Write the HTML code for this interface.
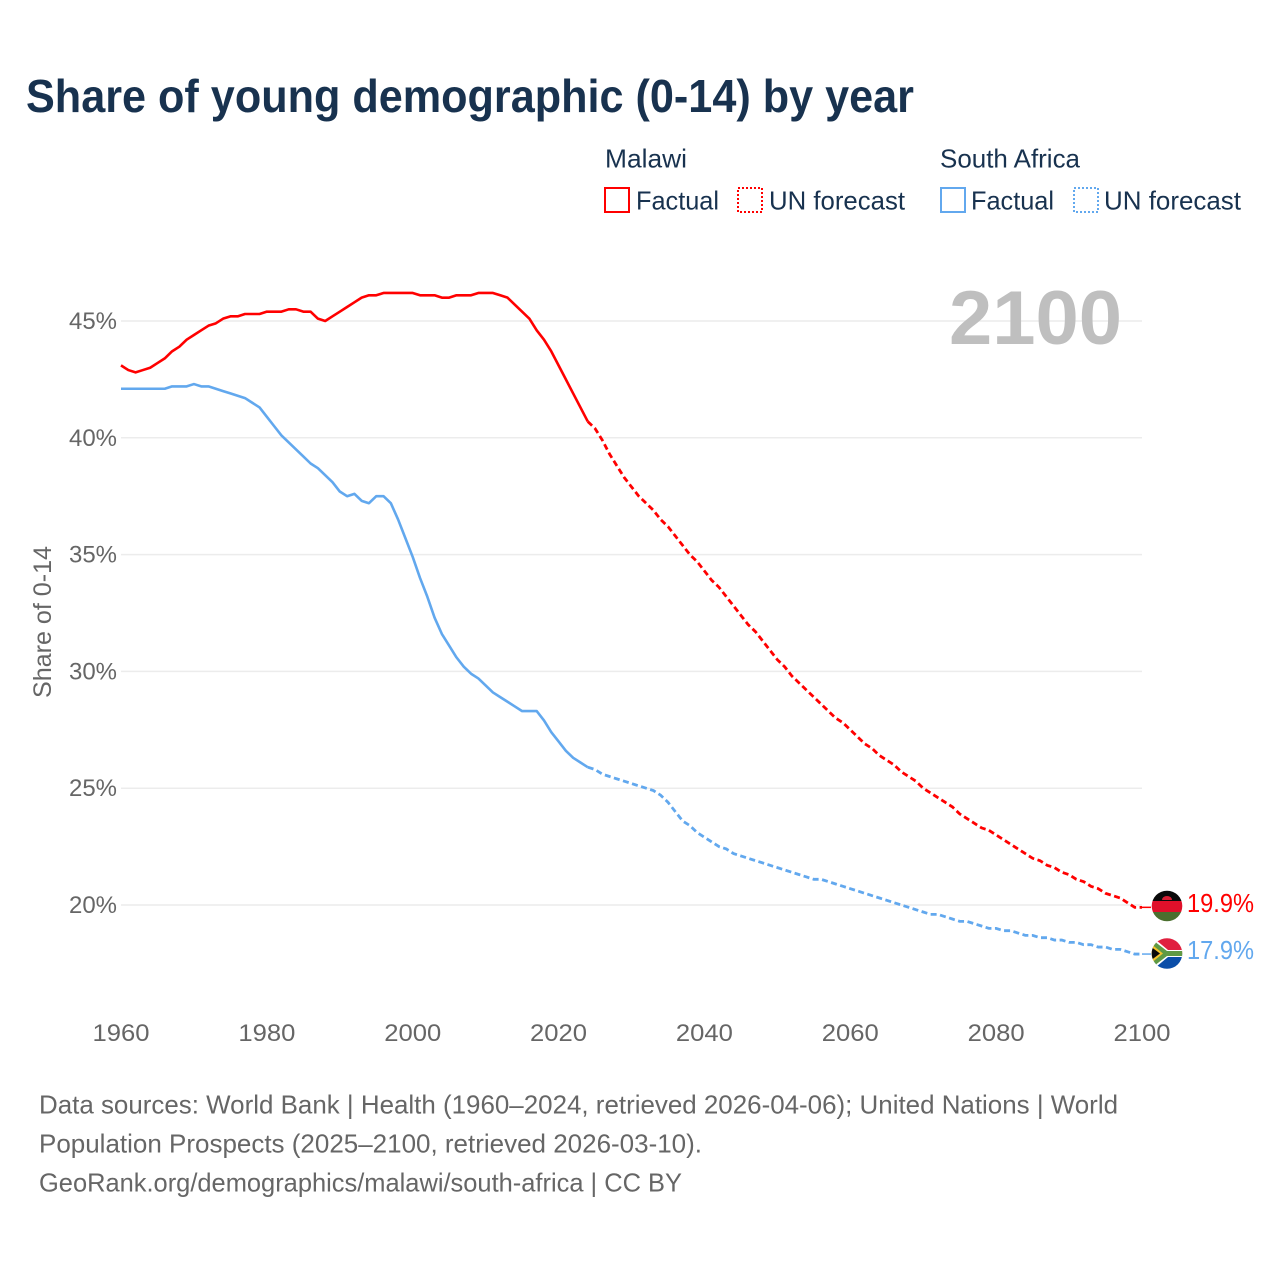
<!DOCTYPE html>
<html lang="en">
<head>
<meta charset="utf-8">
<title>Share of young demographic (0-14) by year</title>
<style>
html,body{margin:0;padding:0;background:#fff;}
svg{display:block;}
text{font-family:"Liberation Sans",sans-serif;}
</style>
</head>
<body>
<svg id="chart" xmlns="http://www.w3.org/2000/svg" width="1280" height="1280" viewBox="0 0 1280 1280">
  <defs>
    <clipPath id="flag-clip-mw"><circle cx="1167" cy="906" r="15.3"/></clipPath>
    <clipPath id="flag-clip-za"><circle cx="1167" cy="953.5" r="15.3"/></clipPath>
  </defs>
  <rect width="1280" height="1280" fill="#ffffff"/>
  <text x="26" y="112" font-size="46" font-weight="700" fill="#18324f" textLength="888" lengthAdjust="spacingAndGlyphs">Share of young demographic (0-14) by year</text>

  <g font-size="26" fill="#18324f">
    <text x="605" y="167.5" textLength="82" lengthAdjust="spacingAndGlyphs">Malawi</text>
    <text x="940" y="167.5" textLength="140" lengthAdjust="spacingAndGlyphs">South Africa</text>
    <rect x="605" y="188" width="24" height="24" fill="none" stroke="#ff0000" stroke-width="2"/>
    <text x="636" y="209.5" textLength="83" lengthAdjust="spacingAndGlyphs">Factual</text>
    <rect x="738" y="188" width="24" height="24" fill="none" stroke="#ff0000" stroke-width="2" stroke-dasharray="2 2"/>
    <text x="769" y="209.5" textLength="136" lengthAdjust="spacingAndGlyphs">UN forecast</text>
    <rect x="941" y="188" width="24" height="24" fill="none" stroke="#62a8ee" stroke-width="2"/>
    <text x="971" y="209.5" textLength="83" lengthAdjust="spacingAndGlyphs">Factual</text>
    <rect x="1074" y="188" width="24" height="24" fill="none" stroke="#62a8ee" stroke-width="2" stroke-dasharray="2 2"/>
    <text x="1104" y="209.5" textLength="137" lengthAdjust="spacingAndGlyphs">UN forecast</text>
  </g>

  <g id="grid"></g>
  <text x="949" y="344" font-size="76" font-weight="700" fill="#bfbfbf" textLength="173" lengthAdjust="spacingAndGlyphs">2100</text>
  <text transform="translate(51,698) rotate(-90)" font-size="25" fill="#666666" textLength="152" lengthAdjust="spacingAndGlyphs">Share of 0-14</text>
  <g id="y-ticks" font-size="24.5" fill="#666666"></g>
  <g id="x-ticks" font-size="24.5" fill="#666666"></g>
  <g id="series"></g>

  <g clip-path="url(#flag-clip-mw)">
    <rect x="1150" y="890" width="34" height="11" fill="#0a0a0a"/>
    <rect x="1150" y="901" width="34" height="11" fill="#e0102a"/>
    <rect x="1150" y="912" width="34" height="11" fill="#4a6f2e"/>
    <path d="M1162 900 a5 4 0 0 1 10 0 z" fill="#d81e34"/>
  </g>
  <g clip-path="url(#flag-clip-za)">
    <rect x="1150" y="937" width="34" height="17" fill="#e0203f"/>
    <rect x="1150" y="954" width="34" height="17" fill="#0b4ea8"/>
    <path d="M1150 935 L1168 950 H1184 V957 H1168 L1150 972 Z" fill="#ffffff"/>
    <path d="M1150 938 L1167 951 H1184 V956 H1167 L1150 969 Z" fill="#5f9a44"/>
    <path d="M1150 943 L1163 953.5 L1150 964 Z" fill="#f5c32c"/>
    <path d="M1150 946 L1160 953.5 L1150 961 Z" fill="#0a0a0a"/>
  </g>
  <text id="label-mw" x="1187" y="912" font-size="25.5" fill="#ff0000" textLength="67" lengthAdjust="spacingAndGlyphs"></text>
  <text id="label-za" x="1187" y="959" font-size="25.5" fill="#62a8ee" textLength="67" lengthAdjust="spacingAndGlyphs"></text>

  <g font-size="26" fill="#666666">
    <text x="39" y="1113.5" textLength="1079" lengthAdjust="spacingAndGlyphs">Data sources: World Bank | Health (1960–2024, retrieved 2026-04-06); United Nations | World</text>
    <text x="39" y="1152.5" textLength="663" lengthAdjust="spacingAndGlyphs">Population Prospects (2025–2100, retrieved 2026-03-10).</text>
    <text x="39" y="1191.5" textLength="643" lengthAdjust="spacingAndGlyphs">GeoRank.org/demographics/malawi/south-africa | CC BY</text>
  </g>
</svg>
<script>
const firstYear = 1960;
const forecastFirstYear = 2025;
const xTickYears = [1960, 1980, 2000, 2020, 2040, 2060, 2080, 2100];
const yTickValues = [20, 25, 30, 35, 40, 45];

const malawiFactual = [43.1,42.9,42.8,42.9,43.0,43.2,43.4,43.7,43.9,44.2,44.4,44.6,44.8,44.9,45.1,45.2,45.2,45.3,45.3,45.3,45.4,45.4,45.4,45.5,45.5,45.4,45.4,45.1,45.0,45.2,45.4,45.6,45.8,46.0,46.1,46.1,46.2,46.2,46.2,46.2,46.2,46.1,46.1,46.1,46.0,46.0,46.1,46.1,46.1,46.2,46.2,46.2,46.1,46.0,45.7,45.4,45.1,44.6,44.2,43.7,43.1,42.5,41.9,41.3,40.7];
const malawiForecast = [40.4,39.9,39.3,38.8,38.3,37.9,37.5,37.2,36.9,36.5,36.2,35.8,35.4,35.0,34.7,34.3,33.9,33.6,33.2,32.8,32.4,32.0,31.7,31.3,30.9,30.5,30.2,29.8,29.5,29.2,28.9,28.6,28.3,28.0,27.8,27.5,27.2,26.9,26.7,26.4,26.2,26.0,25.7,25.5,25.3,25.0,24.8,24.6,24.4,24.2,23.9,23.7,23.5,23.3,23.2,23.0,22.8,22.6,22.4,22.2,22.0,21.9,21.7,21.6,21.4,21.3,21.1,21.0,20.8,20.7,20.5,20.4,20.3,20.1,19.9,19.9];
const southAfricaFactual = [42.1,42.1,42.1,42.1,42.1,42.1,42.1,42.2,42.2,42.2,42.3,42.2,42.2,42.1,42.0,41.9,41.8,41.7,41.5,41.3,40.9,40.5,40.1,39.8,39.5,39.2,38.9,38.7,38.4,38.1,37.7,37.5,37.6,37.3,37.2,37.5,37.5,37.2,36.5,35.7,34.9,34.0,33.2,32.3,31.6,31.1,30.6,30.2,29.9,29.7,29.4,29.1,28.9,28.7,28.5,28.3,28.3,28.3,27.9,27.4,27.0,26.6,26.3,26.1,25.9];
const southAfricaForecast = [25.8,25.6,25.5,25.4,25.3,25.2,25.1,25.0,24.9,24.7,24.4,24.0,23.6,23.4,23.1,22.9,22.7,22.5,22.4,22.2,22.1,22.0,21.9,21.8,21.7,21.6,21.5,21.4,21.3,21.2,21.1,21.1,21.0,20.9,20.8,20.7,20.6,20.5,20.4,20.3,20.2,20.1,20.0,19.9,19.8,19.7,19.6,19.6,19.5,19.4,19.3,19.3,19.2,19.1,19.0,19.0,18.9,18.9,18.8,18.7,18.7,18.6,18.6,18.5,18.5,18.4,18.4,18.3,18.3,18.2,18.2,18.1,18.1,18.0,17.9,17.9];

const SVG_NS = 'http://www.w3.org/2000/svg';
const xScale = function (year) { return 121 + (year - 1960) * (1142 - 121) / 140; };
const yScale = function (value) { return 905 + (value - 20) * (321 - 905) / 25; };
const seriesRed = '#ff0000';
const seriesBlue = '#62a8ee';

function linePath(values, startYear) {
  return values.map(function (v, i) {
    return (i ? 'L' : 'M') + xScale(startYear + i).toFixed(2) + ' ' + yScale(v).toFixed(2);
  }).join(' ');
}

const gridGroup = document.getElementById('grid');
const yTickGroup = document.getElementById('y-ticks');
const xTickGroup = document.getElementById('x-ticks');
const seriesGroup = document.getElementById('series');

yTickValues.forEach(function (v) {
  const line = document.createElementNS(SVG_NS, 'line');
  
  
  line.setAttribute('x1', xScale(1960));
  line.setAttribute('x2', xScale(2100));
  line.setAttribute('y1', yScale(v));
  line.setAttribute('y2', yScale(v));
  line.setAttribute('stroke', '#ececec');
  line.setAttribute('stroke-width', '1.5');
  gridGroup.appendChild(line);

  const label = document.createElementNS(SVG_NS, 'text');
  
  
  label.setAttribute('x', 117);
  label.setAttribute('y', yScale(v) + 8);
  label.setAttribute('text-anchor', 'end');
  label.setAttribute('textLength', '48');
  label.setAttribute('lengthAdjust', 'spacingAndGlyphs');
  label.textContent = v + '%';
  yTickGroup.appendChild(label);
});

xTickYears.forEach(function (year) {
  const label = document.createElementNS(SVG_NS, 'text');
  
  
  label.setAttribute('x', xScale(year));
  label.setAttribute('y', 1041);
  label.setAttribute('text-anchor', 'middle');
  label.setAttribute('textLength', '57');
  label.setAttribute('lengthAdjust', 'spacingAndGlyphs');
  label.textContent = year;
  xTickGroup.appendChild(label);
});

function drawForecastConnector(forecast, color, name) {
  const last = forecast[forecast.length - 1];
  const connector = document.createElementNS(SVG_NS, 'line');
  
  
  connector.setAttribute('x1', xScale(2100));
  connector.setAttribute('x2', xScale(2100) + 9);
  connector.setAttribute('y1', yScale(last));
  connector.setAttribute('y2', yScale(last));
  connector.setAttribute('stroke', color);
  connector.setAttribute('stroke-width', '1.5');
  seriesGroup.appendChild(connector);
}

drawForecastConnector(malawiForecast, seriesRed, 'malawi-flag-connector');
drawForecastConnector(southAfricaForecast, seriesBlue, 'south-africa-flag-connector');

const malawiFactualLine = document.createElementNS(SVG_NS, 'path');


malawiFactualLine.setAttribute('d', linePath(malawiFactual, firstYear));
malawiFactualLine.setAttribute('fill', 'none');
malawiFactualLine.setAttribute('stroke', seriesRed);
malawiFactualLine.setAttribute('stroke-width', '2.6');
malawiFactualLine.setAttribute('stroke-linejoin', 'round');
seriesGroup.appendChild(malawiFactualLine);

const malawiForecastLine = document.createElementNS(SVG_NS, 'path');


malawiForecastLine.setAttribute('d', linePath([malawiFactual[malawiFactual.length - 1]].concat(malawiForecast), forecastFirstYear - 1));
malawiForecastLine.setAttribute('fill', 'none');
malawiForecastLine.setAttribute('stroke', seriesRed);
malawiForecastLine.setAttribute('stroke-width', '2.8');
malawiForecastLine.setAttribute('stroke-dasharray', '6 3.5');
seriesGroup.appendChild(malawiForecastLine);

const southAfricaFactualLine = document.createElementNS(SVG_NS, 'path');


southAfricaFactualLine.setAttribute('d', linePath(southAfricaFactual, firstYear));
southAfricaFactualLine.setAttribute('fill', 'none');
southAfricaFactualLine.setAttribute('stroke', seriesBlue);
southAfricaFactualLine.setAttribute('stroke-width', '2.6');
southAfricaFactualLine.setAttribute('stroke-linejoin', 'round');
seriesGroup.appendChild(southAfricaFactualLine);

const southAfricaForecastLine = document.createElementNS(SVG_NS, 'path');


southAfricaForecastLine.setAttribute('d', linePath([southAfricaFactual[southAfricaFactual.length - 1]].concat(southAfricaForecast), forecastFirstYear - 1));
southAfricaForecastLine.setAttribute('fill', 'none');
southAfricaForecastLine.setAttribute('stroke', seriesBlue);
southAfricaForecastLine.setAttribute('stroke-width', '2.8');
southAfricaForecastLine.setAttribute('stroke-dasharray', '6 3.5');
seriesGroup.appendChild(southAfricaForecastLine);

document.getElementById('label-mw').textContent = malawiForecast[malawiForecast.length - 1].toFixed(1) + '%';
document.getElementById('label-za').textContent = southAfricaForecast[southAfricaForecast.length - 1].toFixed(1) + '%';
</script>
</body>
</html>
